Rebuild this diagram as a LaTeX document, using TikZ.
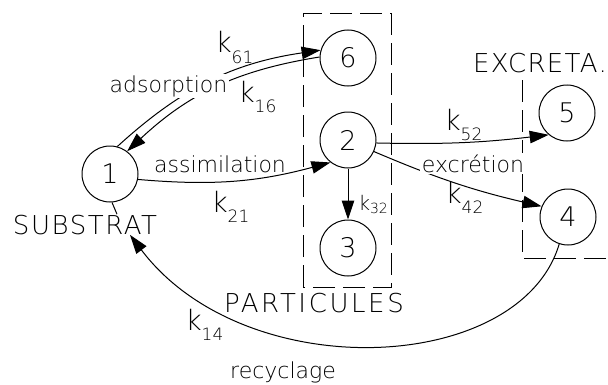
\documentclass[tikz,border=0pt]{standalone}
\usepackage{fontspec}
\setmainfont{DejaVu Sans ExtraLight}
\usetikzlibrary{arrows.meta}
\newcommand\kl[1]{{\fontsize{28}{28}\selectfont k\raisebox{-10pt}{\fontsize{17}{17}\selectfont #1}}}
\newcommand\kls[1]{{\fontsize{20}{20}\selectfont k\raisebox{-3pt}{\fontsize{14}{14}\selectfont #1}}}
\begin{document}
\begin{tikzpicture}[x=1pt,y=1pt,line width=1pt,
  comp/.style={circle,draw,line width=1pt,minimum size=56pt,inner sep=0pt,font=\fontsize{27}{27}\selectfont},
  caps/.style={inner sep=0pt,anchor=base,font=\fontsize{26}{26}\selectfont\addfontfeature{LetterSpace=#1}},
  lc/.style={inner sep=1.5pt,anchor=base,font=\fontsize{22}{22}\selectfont},
  klab/.style={inner sep=0pt,anchor=base west},
  conn/.style={line width=1pt,-{Triangle[length=19pt,width=12.5pt]}},
  pbox/.style={line width=1pt,dash pattern=on 22pt off 8pt}]
\useasboundingbox (0,0) rectangle (608,384);
% compartments
\draw[pbox] (303,97) rectangle (391,370);
\draw[pbox] (522,304) -- (522,126) -- (608,126);
\node[comp] (n1) at (110,210) {1};
\node[comp] (n6) at (348,326) {6};
\node[comp] (n2) at (348,244) {2};
\node[comp] (n3) at (348,136) {3};
\node[comp] (n5) at (567,271) {5};
\node[comp] (n4) at (568,167) {4};
% group labels
\node[caps=6] (substrat) at (85,150) {SUBSTRAT};
\node[caps=10] (particules) at (314,72) {PARTICULES};
\node[caps=5] (excreta) at (540,312) {EXCRETA.};
% connectors
\draw[conn] (n1.75) to[bend left=17] (n6.164);
\draw[conn] (n6.178) to[bend right=17] (n1.53);
\draw[conn] (n1.-11) to[bend right=10] (n2.232);
\draw[conn] (n2.-6) to[bend right=4] (n5.230);
\draw[conn] (n2.-24) to[bend right=5] (n4.158);
\draw[conn] (n2.south) -- (n3.north);
\draw[conn] (n4.252) .. controls (520,9) and (245,-3) .. ([xshift=45pt]substrat.south);
\draw (n1.274) -- ([xshift=32pt]substrat.north);
% labels
\node[lc,fill=white] (adsorption) at (168.5,292) {adsorption};
\node[lc] (assimilation) at (220,212) {assimilation};
\node[lc,fill=white] (excretion) at (473,212) {excrétion};
\node[lc] (recyclage) at (283,6) {recyclage};
\node[klab] (k61) at (215,331) {\kl{61}};
\node[klab] (k16) at (238,282) {\kl{16}};
\node[klab] (k21) at (211,172) {\kl{21}};
\node[klab] (k52) at (444,254) {\kl{52}};
\node[klab] (k42) at (445,181) {\kl{42}};
\node[klab] (k14) at (185,54) {\kl{14}};
\node[klab] (k32) at (358,174) {\kls{32}};
\end{tikzpicture}
\end{document}
